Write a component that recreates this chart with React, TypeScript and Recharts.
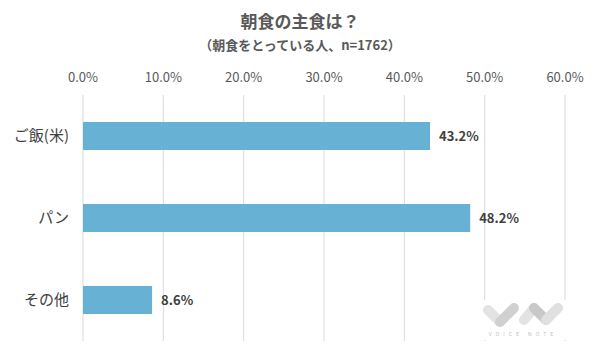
import React from 'react';
import { BarChart, Bar, XAxis, YAxis, CartesianGrid, LabelList } from 'recharts';

const categories = ['ご飯(米)', 'パン', 'その他'];
const shares = [43.2, 48.2, 8.6];
const ticks = [0, 10, 20, 30, 40, 50, 60];

const data = categories.map((name, i) => ({ name, value: shares[i] }));

const font = '"Noto Sans CJK JP", "Noto Sans", sans-serif';

const Logo: React.FC = () => (
  <svg width={90} height={40} style={{ position: 'absolute', left: 478, top: 300 }}>
    <rect x={0} y={0} width={90} height={40} fill="#fff" />
    <g strokeLinecap="round" strokeWidth={10} fill="none">
      <line x1={10} y1={10} x2={22} y2={22} stroke="#e3e3e3" />
      <line x1={22} y1={22} x2={36} y2={8} stroke="#d0d0d0" />
      <line x1={46} y1={20} x2={56} y2={8} stroke="#e3e3e3" />
      <line x1={56} y1={8} x2={68} y2={20} stroke="#c8c8c8" />
      <line x1={68} y1={20} x2={80} y2={8} stroke="#e0e0e0" />
    </g>
    <text x={45} y={36} fontSize={5} fill="#bbb" textAnchor="middle" letterSpacing={4} fontFamily={font}>
      VOICE NOTE
    </text>
  </svg>
);

const App: React.FC = () => {
  return (
    <div style={{ position: 'fixed', left: 0, top: 0, width: 600, height: 360, background: '#fff', fontFamily: font }}>
      <div style={{ position: 'absolute', top: 8, width: 600, textAlign: 'center', fontSize: 17, fontWeight: 700, color: '#595959' }}>
        朝食の主食は？
      </div>
      <div style={{ position: 'absolute', top: 35, width: 600, textAlign: 'center', fontSize: 13, fontWeight: 700, color: '#595959' }}>
        （朝食をとっている人、n=1762）
      </div>
      <BarChart
        width={600}
        height={360}
        data={data}
        layout="vertical"
        margin={{ top: 65, right: 35, bottom: 19, left: 0 }}
        barCategoryGap={0}
      >
        <CartesianGrid horizontal={false} stroke="#d9d9d9" />
        <XAxis
          type="number"
          orientation="top"
          domain={[0, 60]}
          ticks={ticks}
          height={30}
          axisLine={false}
          tickLine={false}
          tickMargin={7}
          tickFormatter={(v: number) => `${v.toFixed(1)}%`}
          tick={{ fontSize: 13, fill: '#595959', fontFamily: font }}
        />
        <YAxis
          type="category"
          dataKey="name"
          width={83}
          axisLine={false}
          tickLine={false}
          tickMargin={8}
          tick={{ fontSize: 15, fill: '#404040', fontFamily: font }}
        />
        <Bar dataKey="value" fill="#67b2d4" barSize={28} isAnimationActive={false}>
          <LabelList
            dataKey="value"
            position="right"
            offset={9}
            formatter={(v: number) => `${v.toFixed(1)}%`}
            style={{ fontSize: 13, fontWeight: 700, fill: '#404040', fontFamily: font }}
          />
        </Bar>
      </BarChart>
      <Logo />
    </div>
  );
};

export default App;
